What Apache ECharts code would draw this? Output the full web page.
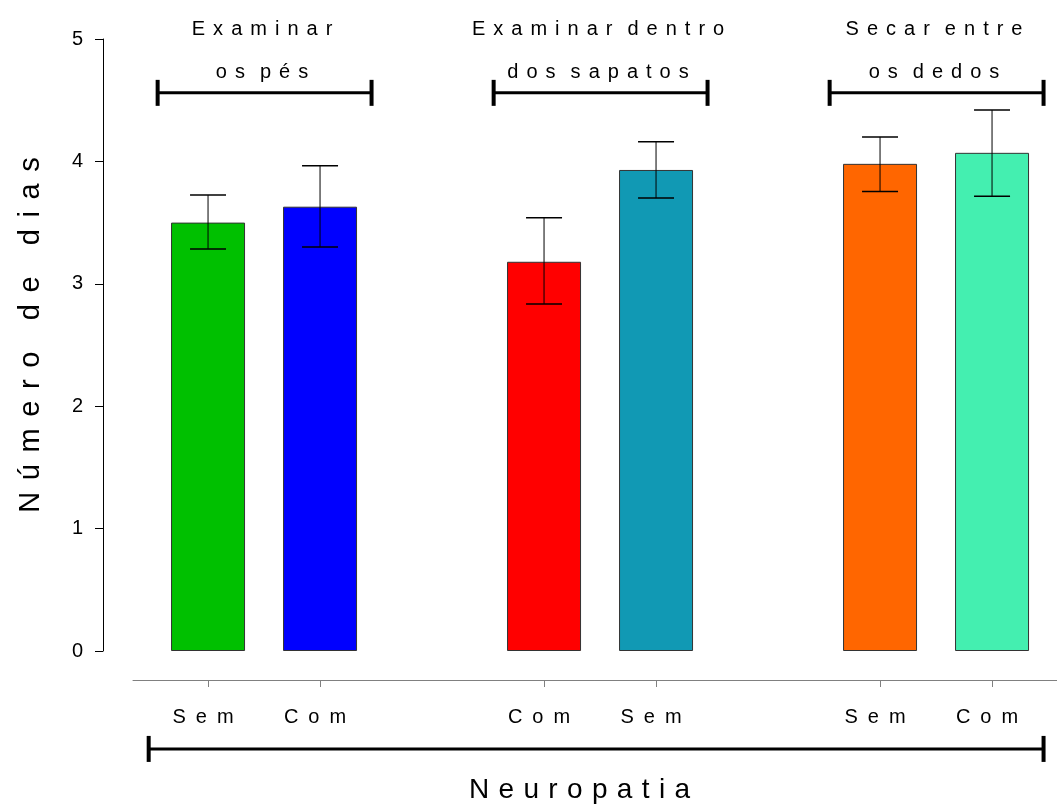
<!DOCTYPE html>
<html><head><meta charset="utf-8">
<script src="https://cdn.jsdelivr.net/npm/echarts@6/dist/echarts.min.js"></script>
<style>html,body{margin:0;padding:0;background:#fff}#c{width:1057px;height:810px}</style>
</head><body><div id="c"></div>
<script>
// ---- data ----
const positions = [0, 1, 3, 4, 6, 7];
const tickLabels = ['Sem', 'Com', 'Com', 'Sem', 'Sem', 'Com'];
const means = [3.50, 3.63, 3.18, 3.93, 3.98, 4.07];
const upper = [3.725, 3.965, 3.54, 4.16, 4.20, 4.42];
const lower = [3.285, 3.30, 2.835, 3.70, 3.755, 3.715];
const colors = ['#00C000', '#0000FF', '#FF0000', '#1199B4', '#FF6600', '#44EFB0'];
const groupTitles = [['Examinar', 'os pés'], ['Examinar dentro', 'dos sapatos'], ['Secar entre', 'os dedos']];
const groupMembers = [[0, 1], [3, 4], [6, 7]];
const yTitle = 'Número de dias';
const xTitle = 'Neuropatia';

const FONT = 'Liberation Sans, Arial, sans-serif';
// letter-spaced text: sep between letters, wsep between words
function spaced(s, sep, wsep) {
  return s.split(' ').map(w => [...w].join(sep)).join(wsep);
}

const chart = echarts.init(document.getElementById('c'), null, {renderer: 'canvas'});
chart.setOption({
  backgroundColor: '#fff',
  animation: false,
  grid: {left: 133, right: 0, top: 39, bottom: 159, containLabel: false},
  xAxis: {
    type: 'value', min: -0.67, max: 7.58, offset: 29,
    splitLine: {show: false},
    axisLine: {show: true, onZero: false, lineStyle: {color: '#808080', width: 1}},
    axisTick: {show: true, customValues: positions, length: 7, lineStyle: {color: '#808080'}},
    axisLabel: {
      customValues: positions, margin: 27, fontSize: 20, color: '#000', fontFamily: FONT,
      formatter: v => spaced(tickLabels[positions.indexOf(v)], '\u2002', '\u2002') + '\u2002'
    },
    name: spaced(xTitle, '\u2004', '\u2002'), nameLocation: 'middle', nameGap: 96,
    nameTextStyle: {fontSize: 28, color: '#000', fontFamily: FONT, padding: [0, 31, 0, 0]}
  },
  yAxis: {
    type: 'value', min: 0, max: 5, interval: 1, offset: 30,
    splitLine: {show: false},
    axisLine: {show: true, onZero: false, lineStyle: {color: '#000', width: 1}},
    axisTick: {show: true, length: 8, lineStyle: {color: '#000'}},
    axisLabel: {margin: 20, fontSize: 20, color: '#000', fontFamily: FONT},
    name: spaced(yTitle, '\u2009\u2009', '\u2009\u2009 \u2009\u2009'), nameLocation: 'middle', nameGap: 58, nameRotate: 90,
    nameTextStyle: {fontSize: 29, color: '#000', fontFamily: FONT, padding: [0, 0, 0, 20]}
  },
  series: [
    {
      type: 'bar', barWidth: 74, z: 2,
      data: positions.map((p, i) => ({value: [p, means[i]], itemStyle: {color: colors[i]}})),
      itemStyle: {borderColor: '#333', borderWidth: 1}
    },
    {
      type: 'custom', z: 5,
      data: positions.map((p, i) => [p, lower[i], upper[i]]),
      renderItem(params, api) {
        const x = api.value(0);
        const lo = api.coord([x, api.value(1)]);
        const hi = api.coord([x, api.value(2)]);
        const hw = 18;
        return {type: 'group', children: [
          {type: 'line', shape: {x1: lo[0], y1: lo[1], x2: hi[0], y2: hi[1]}, style: {stroke: '#000', lineWidth: 1}},
          {type: 'line', shape: {x1: hi[0] - hw, y1: hi[1], x2: hi[0] + hw, y2: hi[1]}, style: {stroke: '#000', lineWidth: 1.5}},
          {type: 'line', shape: {x1: lo[0] - hw, y1: lo[1], x2: lo[0] + hw, y2: lo[1]}, style: {stroke: '#000', lineWidth: 1.5}}
        ]};
      }
    },
    {
      type: 'custom', z: 5, silent: true,
      data: groupMembers.map((m, g) => [m[0], m[1], g]),
      renderItem(params, api) {
        const a = api.value(0), b = api.value(1), g = api.value(2);
        const L = api.coord([a - 0.45, 4.56]);
        const R = api.coord([b + 0.46, 4.56]);
        const C = api.coord([(a + b) / 2, 4.56]);
        const ch = 13;
        const st = {fill: '#000', font: '20px ' + FONT, textAlign: 'center', textVerticalAlign: 'middle'};
        const sep = '\u2009\u2009', wsep = '\u2002\u2005';
        return {type: 'group', children: [
          {type: 'line', shape: {x1: L[0], y1: L[1], x2: R[0], y2: R[1]}, style: {stroke: '#000', lineWidth: 3}},
          {type: 'line', shape: {x1: L[0], y1: L[1] - ch, x2: L[0], y2: L[1] + ch}, style: {stroke: '#000', lineWidth: 4}},
          {type: 'line', shape: {x1: R[0], y1: R[1] - ch, x2: R[0], y2: R[1] + ch}, style: {stroke: '#000', lineWidth: 4}},
          {type: 'text', x: C[0] - 2, y: C[1] - 63, style: Object.assign({text: spaced(groupTitles[g][0], sep, wsep)}, st)},
          {type: 'text', x: C[0] - 2, y: C[1] - 20, style: Object.assign({text: spaced(groupTitles[g][1], sep, wsep)}, st)}
        ]};
      }
    },
    {
      type: 'custom', z: 5, silent: true,
      data: [[positions[0], positions[positions.length - 1]]],
      renderItem(params, api) {
        const L = api.coord([api.value(0) - 0.53, -0.8]);
        const R = api.coord([api.value(1) + 0.46, -0.8]);
        const ch = 13;
        return {type: 'group', children: [
          {type: 'line', shape: {x1: L[0], y1: L[1], x2: R[0], y2: R[1]}, style: {stroke: '#000', lineWidth: 3}},
          {type: 'line', shape: {x1: L[0], y1: L[1] - ch, x2: L[0], y2: L[1] + ch}, style: {stroke: '#000', lineWidth: 4}},
          {type: 'line', shape: {x1: R[0], y1: R[1] - ch, x2: R[0], y2: R[1] + ch}, style: {stroke: '#000', lineWidth: 4}}
        ]};
      }
    }
  ]
});
</script>
</body></html>
